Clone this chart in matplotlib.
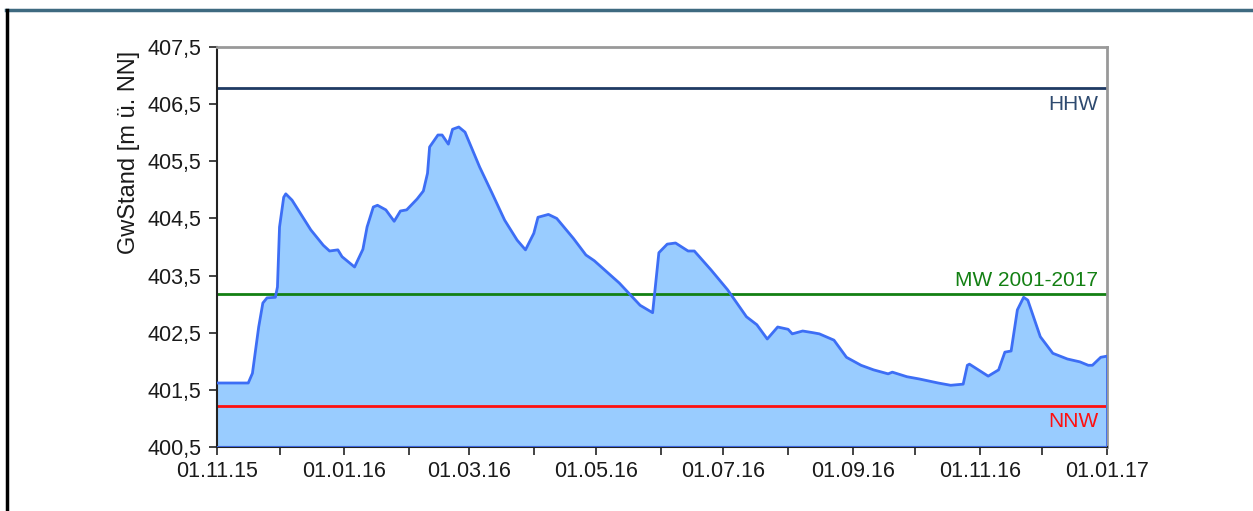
import matplotlib
matplotlib.use("Agg")
import matplotlib.pyplot as plt
import matplotlib.dates as mdates
from matplotlib.lines import Line2D
import numpy as np

plt.rcParams['font.family'] = ['Liberation Sans', 'DejaVu Sans']

# groundwater level readings
dates = ["2015-11-01", "2015-11-16", "2015-11-18", "2015-11-21", "2015-11-23",
         "2015-11-25", "2015-11-29", "2015-11-30", "2015-12-01", "2015-12-03",
         "2015-12-04", "2015-12-07", "2015-12-16", "2015-12-22", "2015-12-25",
         "2015-12-29", "2015-12-31", "2016-01-06", "2016-01-10", "2016-01-12",
         "2016-01-15", "2016-01-17", "2016-01-21", "2016-01-25", "2016-01-28",
         "2016-01-31", "2016-02-05", "2016-02-08", "2016-02-10", "2016-02-11",
         "2016-02-15", "2016-02-17", "2016-02-20", "2016-02-22", "2016-02-25",
         "2016-02-28", "2016-03-06", "2016-03-12", "2016-03-18", "2016-03-24",
         "2016-03-28", "2016-04-01", "2016-04-03", "2016-04-08", "2016-04-12",
         "2016-04-20", "2016-04-26", "2016-04-30", "2016-05-12", "2016-05-22",
         "2016-05-28", "2016-05-29", "2016-05-31", "2016-06-04", "2016-06-08",
         "2016-06-14", "2016-06-17", "2016-06-25", "2016-07-03", "2016-07-12",
         "2016-07-17", "2016-07-22", "2016-07-27", "2016-08-01", "2016-08-03",
         "2016-08-08", "2016-08-13", "2016-08-16", "2016-08-23", "2016-08-29",
         "2016-09-05", "2016-09-11", "2016-09-18", "2016-09-20", "2016-09-27",
         "2016-10-03", "2016-10-12", "2016-10-18", "2016-10-24", "2016-10-26",
         "2016-10-27", "2016-11-05", "2016-11-10", "2016-11-13", "2016-11-16",
         "2016-11-19", "2016-11-22", "2016-11-24", "2016-11-30", "2016-12-06",
         "2016-12-13", "2016-12-19", "2016-12-23", "2016-12-25", "2016-12-29",
         "2017-01-01"]
level = [401.62, 401.62, 401.79, 402.60, 403.02,
         403.11, 403.12, 403.30, 404.35, 404.87,
         404.93, 404.82, 404.30, 404.03, 403.93,
         403.95, 403.83, 403.65, 403.96, 404.35,
         404.70, 404.73, 404.65, 404.45, 404.63,
         404.65, 404.84, 404.98, 405.29, 405.75,
         405.96, 405.96, 405.80, 406.06, 406.10,
         406.01, 405.40, 404.94, 404.47, 404.12,
         403.95, 404.24, 404.52, 404.57, 404.50,
         404.15, 403.86, 403.76, 403.37, 402.98,
         402.85, 403.20, 403.90, 404.05, 404.07,
         403.93, 403.93, 403.60, 403.25, 402.78,
         402.64, 402.39, 402.60, 402.56, 402.48,
         402.53, 402.50, 402.48, 402.37, 402.07,
         401.93, 401.85, 401.78, 401.81, 401.73,
         401.69, 401.62, 401.58, 401.60, 401.93,
         401.95, 401.74, 401.85, 402.16, 402.18,
         402.90, 403.12, 403.07, 402.43, 402.14,
         402.04, 401.99, 401.93, 401.93, 402.07,
         402.09]

hhw = 406.78
mw = 403.18
nnw = 401.22

y_ticks = [400.5, 401.5, 402.5, 403.5, 404.5, 405.5, 406.5, 407.5]

x = np.array(dates, dtype="datetime64[D]")
y = np.array(level)

fig = plt.figure(figsize=(12.53, 5.11), dpi=100)
ax = fig.add_axes([217 / 1253, 64 / 511, 890 / 1253, 400 / 511])

ax.fill_between(x, y, 400.5, facecolor="#99ccff", edgecolor="none", zorder=1)
ax.plot(x, y, color="#3d6ef5", lw=2, zorder=3, solid_joinstyle="round")
ax.plot([x[-1], x[-1]], [400.5, y[-1]], color="#3d6ef5", lw=2, zorder=3)
ax.plot([x[0], x[-1]], [400.5, 400.5], color="#3d6ef5", lw=2, zorder=3)

ax.axhline(hhw, color="#1f3a63", lw=2, zorder=2)
ax.axhline(mw, color="#138013", lw=2, zorder=2)
ax.axhline(nnw, color="#ff1010", lw=2, zorder=2)

ax.text(0.99, hhw - 0.12, "HHW", transform=ax.get_yaxis_transform(),
        ha="right", va="top", color="#2e4a6f", fontsize=15)
ax.text(0.99, mw + 0.07, "MW 2001-2017", transform=ax.get_yaxis_transform(),
        ha="right", va="bottom", color="#138013", fontsize=15)
ax.text(0.99, nnw - 0.1, "NNW", transform=ax.get_yaxis_transform(),
        ha="right", va="top", color="#ff1010", fontsize=15)

ax.set_xlim(x[0], x[-1])
ax.set_ylim(400.5, 407.5)

ax.set_yticks(y_ticks)
ax.set_yticklabels([f"{v:.1f}".replace(".", ",") for v in y_ticks])

ax.xaxis.set_major_locator(mdates.MonthLocator(bymonth=[1, 3, 5, 7, 9, 11]))
ax.xaxis.set_major_formatter(mdates.DateFormatter("%d.%m.%y"))
ax.xaxis.set_minor_locator(mdates.MonthLocator())

ax.tick_params(axis="both", which="both", direction="out", color="#222222",
               labelsize=15.5, labelcolor="#1a1a1a")
ax.tick_params(axis="both", which="major", length=6, width=1.2)
ax.tick_params(axis="x", which="minor", length=6, width=1.2)
ax.tick_params(axis="y", pad=5)
ax.tick_params(axis="x", pad=4)

ax.spines["left"].set_color("#222222")
ax.spines["left"].set_linewidth(1.5)
ax.spines["bottom"].set_color("#222222")
ax.spines["bottom"].set_linewidth(1.5)
ax.spines["top"].set_color("#999999")
ax.spines["top"].set_linewidth(2)
ax.spines["right"].set_color("#999999")
ax.spines["right"].set_linewidth(2)

ax.set_ylabel("GwStand [m ü. NN]", fontsize=17, color="#1a1a1a")
ax.yaxis.set_label_coords(-0.087, 0.737)

# outer frame pieces visible in the reference
fig.add_artist(Line2D([6 / 1253, 1], [1 - 10 / 511, 1 - 10 / 511],
                      color="#3e6a80", lw=2.5))
fig.add_artist(Line2D([7 / 1253, 7 / 1253], [0, 1 - 10 / 511],
                      color="black", lw=2.5))

fig.savefig("out.png", dpi=100)
